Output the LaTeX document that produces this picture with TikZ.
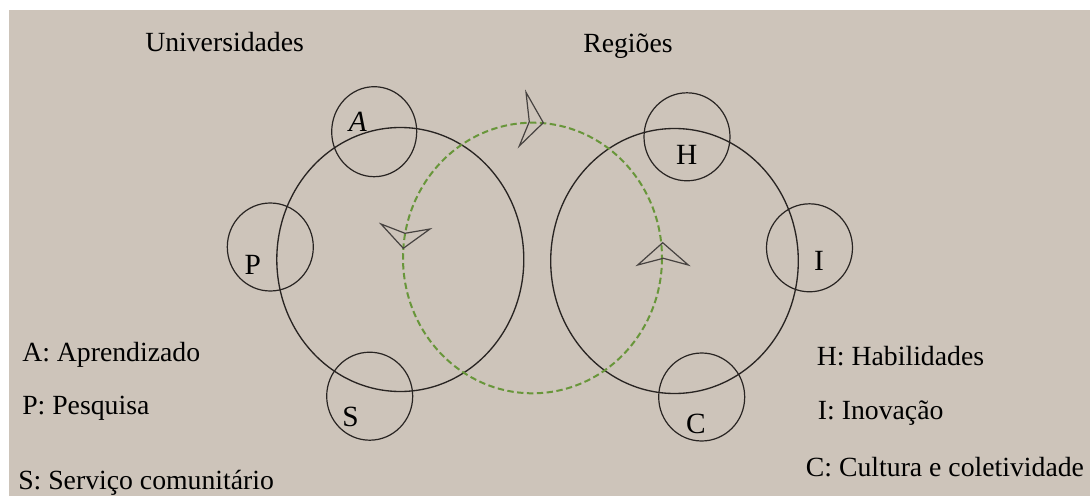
\documentclass[tikz,border=0pt]{standalone}
\usepackage{fontspec}
\setmainfont{Liberation Serif}
\definecolor{paper}{RGB}{205,196,186}
\definecolor{loopgreen}{RGB}{104,150,58}
\definecolor{ink}{RGB}{40,36,34}
\definecolor{tipgray}{RGB}{70,66,64}
\begin{document}
\begin{tikzpicture}[x=0.75pt,y=-0.75pt,
  ring/.style={draw=ink, line width=1pt},
  minor/.style={draw=ink, line width=0.9pt},
  loopline/.style={draw=loopgreen, dash pattern=on 4.8pt off 2.6pt, line width=1.5pt},
  dart/.style={draw=tipgray, line width=0.9pt, line join=miter},
  legend/.style={anchor=base west, inner sep=0pt, font=\fontsize{20.8}{25}\selectfont},
  letter/.style={anchor=base, inner sep=0pt, font=\fontsize{22}{26}\selectfont}]
\useasboundingbox (0,0) rectangle (1090,496);
\fill[white] (0,0) rectangle (1090,496);
\fill[paper] (9,10) rectangle (1090,496);

% centres of the two large circles and of the exchange loop
\coordinate (uni) at (400.3,259.5);
\coordinate (reg) at (674.5,261);
\coordinate (mid) at (532.5,258);

% centres of the six small circles
\coordinate (cA) at (374.2,131.7);
\coordinate (cP) at (270.3,247);
\coordinate (cS) at (369.7,396.2);
\coordinate (cH) at (687,136.8);
\coordinate (cI) at (809.5,247.8);
\coordinate (cC) at (701.7,397);

% large circles
\draw[ring] (uni) ellipse [x radius=123.5, y radius=132];
\draw[ring] (reg) ellipse [x radius=123.8, y radius=132.5];

% small circles
\draw[minor] (cA) ellipse [x radius=42.5, y radius=45];
\foreach \c in {cP,cS,cH,cI,cC}
  \draw[minor] (\c) ellipse [x radius=43, y radius=44];

% dashed exchange loop
\draw[loopline] (mid) ellipse [x radius=129.5, y radius=135.3];

% open dart heads marking the direction of the loop
\draw[dart] (543.3,122.7) -- (526,92.3) -- (529.3,121.7) -- (519.3,146) -- cycle;
\draw[dart] (403.3,248.3) -- (381,224) -- (405,233.3) -- (430,229) -- cycle;
\draw[dart] (662.7,242.7) -- (637.7,265) -- (663.3,258.3) -- (688.3,265) -- cycle;

% letters in the small circles
\node[letter] (lA) at (358,131.7) {\textit{A}};
\node[letter] (lP) at (252.7,274) {P};
\node[letter] (lS) at (350.5,426.7) {S};
\node[letter] (lH) at (686.7,164) {H};
\node[letter] (lI) at (819,270) {I};
\node[letter] (lC) at (696,433.3) {C};

% headings
\node[legend] (tUni) at (145,51.7) {Universidades};
\node[legend] (tReg) at (583,52) {Regiões};

% legends
\node[legend] (kA) at (22,361) {A: Aprendizado};
\node[legend] (kP) at (22,414) {P: Pesquisa};
\node[legend] (kS) at (18,489) {S: Serviço comunitário};
\node[legend] (kH) at (816.7,365.7) {H: Habilidades};
\node[legend] (kI) at (817.7,419) {I: Inovação};
\node[legend] (kC) at (805.7,476) {C: Cultura e coletividade};
\end{tikzpicture}
\end{document}
